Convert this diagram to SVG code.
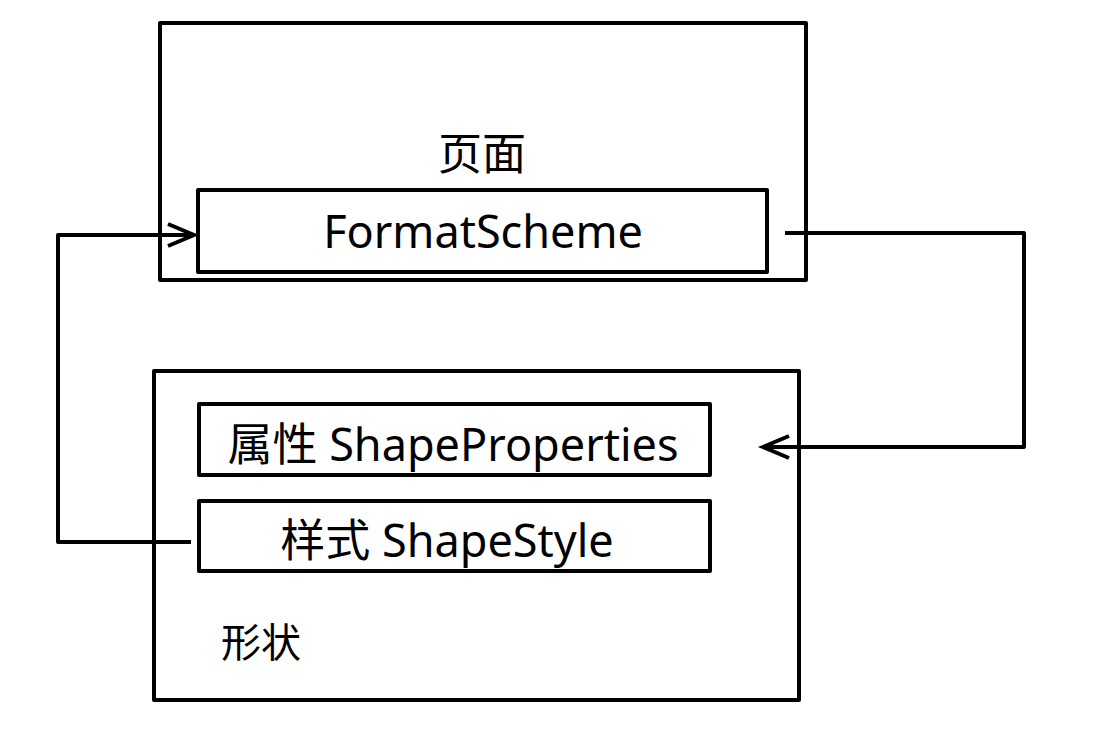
<svg xmlns="http://www.w3.org/2000/svg" width="1110" height="747" viewBox="0 0 1110 747">
<defs>
<style>
.box{fill:none;stroke:#000;stroke-width:4;stroke-linejoin:round}
.conn{fill:none;stroke:#000;stroke-width:4;stroke-linejoin:round}
.t{font-family:"Noto Sans","Noto Sans CJK SC",sans-serif;font-size:45px;fill:#000}
</style>
<marker id="arr" markerUnits="userSpaceOnUse" markerWidth="40" markerHeight="40" refX="28" refY="13" orient="auto">
<path d="M2,2 L28,13 L2,24" fill="none" stroke="#000" stroke-width="4"/>
</marker>
</defs>
<rect width="1110" height="747" fill="#fff"/>
<g id="page">
<rect class="box" x="160" y="23" width="646" height="257"/>
<text class="t" x="482" y="170" text-anchor="middle" style="font-size:44px">页面</text>
</g>
<g id="formatscheme">
<rect class="box" x="198" y="190" width="569" height="82"/>
<text class="t" x="483" y="248" text-anchor="middle">FormatScheme</text>
</g>
<g id="shape">
<rect class="box" x="154" y="371" width="645" height="329"/>
<text class="t" x="261" y="657" text-anchor="middle" style="font-size:40px">形状</text>
</g>
<g id="shapeproperties">
<rect class="box" x="199" y="404" width="511" height="71"/>
<text class="t" x="453" y="461" text-anchor="middle">属性 ShapeProperties</text>
</g>
<g id="shapestyle">
<rect class="box" x="199" y="501" width="511" height="70"/>
<text class="t" x="447" y="557" text-anchor="middle">样式 ShapeStyle</text>
</g>
<g id="connectors">
<path class="conn" d="M785,233 H1024 V447 H763" marker-end="url(#arr)"/>
<path class="conn" d="M191,542 H58 V235 H194" marker-end="url(#arr)"/>
</g>
</svg>
